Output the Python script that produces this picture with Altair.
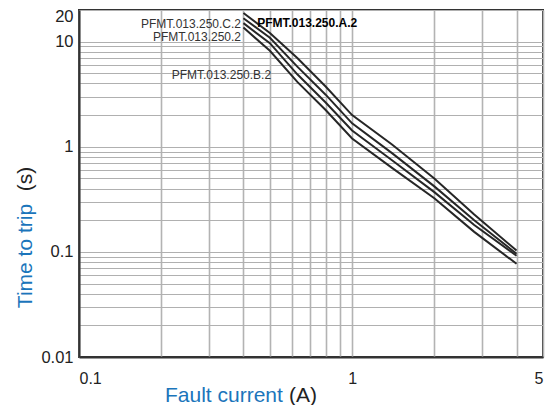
import altair as alt
import pandas as pd

# ---- data ----
currents = [0.4, 0.5, 0.63, 0.8, 1.0, 1.4, 2.0, 2.8, 4.0]           # fault current (A)
curve_a = [18.7, 12.1, 7.0, 3.74, 2.0, 1.05, 0.50, 0.227, 0.103]     # PFMT.013.250.A.2
curve_c = [16.7, 10.9, 5.78, 3.13, 1.67, 0.87, 0.42, 0.20, 0.096]    # PFMT.013.250.C.2
curve_s = [15.0, 9.67, 4.89, 2.64, 1.43, 0.745, 0.37, 0.18, 0.092]   # PFMT.013.250.2
curve_b = [13.6, 8.18, 4.14, 2.24, 1.20, 0.63, 0.324, 0.155, 0.077]  # PFMT.013.250.B.2
series_names = ["PFMT.013.250.A.2", "PFMT.013.250.C.2",
                "PFMT.013.250.2", "PFMT.013.250.B.2"]

# curve label anchors (data coordinates)
label_current = [0.449, 0.392, 0.392, 0.505]
label_time = [15.0, 14.7, 11.07, 4.78]

x_ticks = [0.1, 0.2, 0.3, 0.4, 0.5, 0.6, 0.7, 0.8, 0.9, 1, 2, 3, 4, 5]
x_labels = [0.1, 1, 5]
y_ticks = [round(d * k, 4) for d in (0.01, 0.1, 1) for k in range(1, 10)] + [10, 20]
y_labels = [0.01, 0.1, 1, 10, 20]

rows = []
for name, vals in zip(series_names, [curve_a, curve_c, curve_s, curve_b]):
    for i, (c, v) in enumerate(zip(currents, vals)):
        rows.append({"series": name, "current": c, "time": v, "order": i})
df = pd.DataFrame(rows)

lab = pd.DataFrame({"series": series_names, "current": label_current, "time": label_time})

BLUE = "#1b75bb"
FONT = "Liberation Sans"

xs = alt.Scale(type="log", domain=[0.1, 5], nice=False)
ys = alt.Scale(type="log", domain=[0.01, 20], nice=False)

x_lab_expr = "indexof([" + ",".join(str(v) for v in x_labels) + "], datum.value) >= 0 ? datum.label : ''"
y_lab_expr = "indexof([" + ",".join(str(v) for v in y_labels) + "], datum.value) >= 0 ? datum.label : ''"

xaxis = alt.Axis(values=x_ticks, format="~g", labelExpr=x_lab_expr, title=None,
                 ticks=False, tickSize=0, labelPadding=13, labelFlush=True,
                 labelOverlap=False, labelFontSize=16, labelColor="#222",
                 labelFont=FONT, grid=True, gridColor="#b3b3b3", gridWidth=1.6,
                 domainColor="#333", domainWidth=2)
yaxis = alt.Axis(values=y_ticks, format="~g", labelExpr=y_lab_expr, title=None,
                 ticks=False, tickSize=0, labelPadding=6, labelOverlap=False,
                 labelOffset={"condition": {"test": "datum.value >= 20", "value": 6}, "value": 0},
                 labelFontSize=16.5, labelColor="#222", labelFont=FONT,
                 grid=True, gridColor="#b0b0b0", gridWidth=1.2,
                 domainColor="#333", domainWidth=2)

X = alt.X("current:Q", scale=xs, axis=xaxis)
Y = alt.Y("time:Q", scale=ys, axis=yaxis)

lines = alt.Chart(df).mark_line(color="#262626", strokeWidth=2).encode(
    x=X, y=Y, detail="series:N", order="order:Q")

lab_left = alt.Chart(lab).transform_filter(
    alt.datum.series == "PFMT.013.250.A.2").mark_text(
    align="left", baseline="middle", fontSize=12, font=FONT, color="#000",
    fontWeight=600).encode(x=X, y=Y, text="series:N")
lab_right = alt.Chart(lab).transform_filter(
    alt.datum.series != "PFMT.013.250.A.2").mark_text(
    align="right", baseline="middle", fontSize=12, font=FONT, color="#333"
    ).encode(x=X, y=Y, text="series:N")

one = pd.DataFrame({"k": [0]})
t_fault = alt.Chart(one).mark_text(text="Fault current", align="left", baseline="middle",
                                   fontSize=21, font=FONT, color=BLUE).encode(
    x=alt.value(86), y=alt.value(386))
t_a = alt.Chart(one).mark_text(text="(A)", align="left", baseline="middle",
                               fontSize=21, font=FONT, color="#222").encode(
    x=alt.value(210), y=alt.value(386))
t_time = alt.Chart(one).mark_text(text="Time to trip", align="center", baseline="middle",
                                  angle=270, fontSize=21, font=FONT, color=BLUE).encode(
    x=alt.value(-53), y=alt.value(246))
t_s = alt.Chart(one).mark_text(text="(s)", align="center", baseline="middle",
                               angle=270, fontSize=21, font=FONT, color="#222").encode(
    x=alt.value(-53), y=alt.value(169))

chart = alt.layer(lines, lab_left, lab_right, t_fault, t_a, t_time, t_s).properties(
    width=464, height=347,
    padding={"left": 71, "top": 2, "right": 3, "bottom": 48},
    autosize=alt.AutoSizeParams(type="none"),
    background="white",
).configure_view(stroke="#333", strokeWidth=2)

chart.save("out.html", embed_options={"renderer": "svg", "actions": False})
